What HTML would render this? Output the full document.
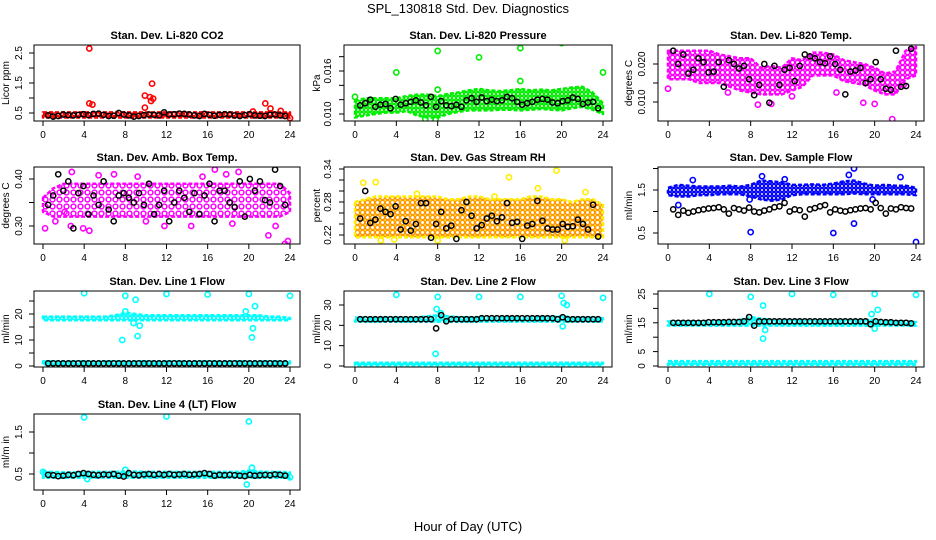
<!DOCTYPE html>
<html><head><meta charset="utf-8"><style>
body{margin:0;background:#fff;}
svg{display:block;font-family:"Liberation Sans",sans-serif;}
</style></head><body>
<svg id="c" width="936" height="540" viewBox="0 0 936 540">
<text x="468" y="13" text-anchor="middle" font-size="13">SPL_130818  Std. Dev. Diagnostics</text>
<text x="468" y="531" text-anchor="middle" font-size="13">Hour of Day (UTC)</text>
</svg>
<script>
const hours=[0,1,2,3,4,5,6,7,8,9,10,11,12,13,14,15,16,17,18,19,20,21,22,23,24];
const xTicks=[0,4,8,12,16,20,24];
const rep=(v,n)=>Array(n).fill(v);

const co2Lo=rep(0.35,25), co2Hi=rep(0.52,25);
const co2OutX=[4.5,4.5,4.8,9.9,10.6,10.4,10.7,10.5,9.9,21.6,22.1,23.1,20.4,24];
const co2OutY=[2.65,0.82,0.78,1.08,1.48,1.03,0.98,0.9,0.68,0.82,0.65,0.57,0.55,0.33];
const co2Black=[0.42,0.38,0.40,0.45,0.43,0.42,0.44,0.46,0.43,0.47,0.48,0.44,0.40,0.41,0.50,0.45,0.42,0.38,0.40,0.43,0.45,0.44,0.42,0.52,0.45,0.46,0.48,0.47,0.45,0.42,0.40,0.47,0.44,0.41,0.44,0.46,0.45,0.42,0.40,0.43,0.46,0.42,0.41,0.40,0.44,0.45,0.42,0.40];

const presLo=[0.0095,0.0098,0.0100,0.0102,0.0102,0.0104,0.0098,0.0095,0.0095,0.0100,0.0103,0.0105,0.0105,0.0105,0.0106,0.0106,0.0105,0.0106,0.0107,0.0106,0.0105,0.0108,0.0110,0.0106,0.0100];
const presHi=[0.0118,0.0122,0.0122,0.0122,0.0122,0.0125,0.0127,0.0127,0.0125,0.0128,0.0130,0.0133,0.0135,0.0133,0.0132,0.0133,0.0135,0.0133,0.0134,0.0133,0.0135,0.0137,0.0138,0.0130,0.0115];
const presOutX=[4,8,12,16,20,24,16,8,6.8,7.8,0];
const presOutY=[0.0158,0.0188,0.0179,0.0192,0.0199,0.0158,0.0146,0.0134,0.0093,0.0092,0.0124];
const presBlack=[0.0112,0.0115,0.0120,0.0110,0.0113,0.0114,0.0108,0.0121,0.0113,0.0115,0.0117,0.0119,0.0116,0.0112,0.0124,0.0110,0.0118,0.0112,0.0111,0.0113,0.0110,0.0119,0.0122,0.0117,0.0123,0.0118,0.0120,0.0118,0.0119,0.0124,0.0122,0.0117,0.0113,0.0115,0.0117,0.0120,0.0121,0.0120,0.0116,0.0115,0.0118,0.0119,0.0123,0.0121,0.0114,0.0116,0.0117,0.0108];

const tempLo=[0.016,0.016,0.016,0.015,0.015,0.015,0.014,0.013,0.0125,0.012,0.012,0.012,0.013,0.014,0.017,0.017,0.017,0.0155,0.015,0.0145,0.013,0.012,0.012,0.016,0.017];
const tempHi=[0.0235,0.0235,0.0235,0.0235,0.0235,0.0225,0.022,0.0215,0.0215,0.019,0.0195,0.019,0.0215,0.021,0.023,0.023,0.0225,0.021,0.0205,0.020,0.019,0.0175,0.018,0.0235,0.0245];
const tempOutX=[0,10,21.7,18.9,20,8.7,5.8,12,16.3,22.8];
const tempOutY=[0.0135,0.0095,0.0055,0.0098,0.0095,0.0093,0.0125,0.0115,0.0125,0.0145];
const tempBlack=[0.0235,0.0200,0.0225,0.0175,0.0185,0.0215,0.0205,0.0178,0.0180,0.0205,0.0140,0.0210,0.0200,0.0188,0.0195,0.0160,0.0118,0.0145,0.0200,0.0098,0.0195,0.0145,0.0185,0.0190,0.0155,0.0195,0.0225,0.0220,0.0215,0.0205,0.0202,0.0220,0.0200,0.0185,0.0120,0.0180,0.0183,0.0190,0.0150,0.0160,0.0205,0.0160,0.0135,0.0132,0.0235,0.0140,0.0142,0.0240];

const ambLo=[0.33,0.32,0.32,0.32,0.32,0.32,0.32,0.32,0.32,0.32,0.32,0.32,0.32,0.32,0.32,0.32,0.32,0.32,0.32,0.32,0.32,0.32,0.32,0.32,0.33];
const ambHi=[0.36,0.38,0.39,0.39,0.39,0.39,0.39,0.39,0.39,0.39,0.39,0.39,0.39,0.39,0.39,0.39,0.39,0.39,0.39,0.39,0.39,0.39,0.39,0.39,0.37];
const ambOutX=[0.2,2.1,2.7,3.9,4.5,2.8,5.4,6.9,16.7,17.8,19,21.9,23.5,23.8,10,11.8,14.4,18.4,22.6,1.2,9.2,15.5];
const ambOutY=[0.295,0.33,0.30,0.295,0.29,0.415,0.408,0.41,0.42,0.41,0.415,0.28,0.262,0.268,0.31,0.30,0.30,0.305,0.30,0.31,0.405,0.405];
const ambBlack=[0.345,0.365,0.410,0.375,0.395,0.295,0.370,0.385,0.325,0.365,0.345,0.395,0.335,0.310,0.365,0.370,0.360,0.350,0.370,0.345,0.390,0.325,0.345,0.375,0.310,0.350,0.375,0.360,0.330,0.370,0.325,0.365,0.390,0.310,0.375,0.375,0.350,0.340,0.395,0.320,0.400,0.375,0.395,0.355,0.350,0.420,0.385,0.345];

const rhLo=rep(0.216,25);
const rhHi=[0.28,0.285,0.29,0.29,0.29,0.29,0.29,0.29,0.29,0.285,0.285,0.29,0.29,0.285,0.285,0.285,0.285,0.29,0.29,0.285,0.285,0.28,0.285,0.285,0.275];
const rhOutX=[0.8,2,14.9,19.5,13.5,17.7,8,20.3,2.5,6,22.3,3.8];
const rhOutY=[0.315,0.316,0.325,0.337,0.29,0.305,0.21,0.21,0.21,0.295,0.298,0.212];
const rhBlack=[0.250,0.300,0.242,0.248,0.268,0.262,0.258,0.272,0.230,0.245,0.228,0.240,0.278,0.278,0.215,0.240,0.262,0.232,0.237,0.213,0.265,0.280,0.255,0.232,0.238,0.250,0.255,0.245,0.252,0.278,0.242,0.244,0.213,0.237,0.240,0.282,0.246,0.232,0.230,0.230,0.240,0.235,0.236,0.248,0.240,0.230,0.275,0.217];

const sampleLo=[1.38,1.35,1.35,1.38,1.38,1.40,1.40,1.40,1.35,1.28,1.25,1.28,1.38,1.40,1.40,1.40,1.40,1.40,1.42,1.40,1.40,1.40,1.40,1.40,1.38];
const sampleHi=[1.55,1.62,1.60,1.58,1.58,1.58,1.60,1.58,1.62,1.72,1.70,1.68,1.62,1.62,1.63,1.62,1.65,1.70,1.72,1.65,1.60,1.62,1.60,1.60,1.55];
const sampleOutX=[2.4,8,16,18,17.5,18,22.5,24,19.8,7.9,9.1,11.3,1.0];
const sampleOutY=[1.73,0.52,0.5,2.0,1.85,0.72,1.8,0.29,1.28,1.28,1.82,1.75,1.15];
const sampleBlack=[1.05,0.92,1.02,0.97,1.0,1.03,1.05,1.07,1.08,1.10,1.05,0.95,1.08,1.05,1.02,1.09,1.0,0.98,1.02,1.05,1.10,1.12,1.20,1.0,1.05,1.03,0.88,1.05,1.08,1.12,1.15,0.98,1.05,1.02,1.0,1.03,1.05,1.07,1.08,1.05,1.20,1.08,0.95,1.07,1.05,1.1,1.08,1.07];

const line1Lo=rep(17.6,25), line1Hi=[19,19,19,19,19,19,19,19.5,20.5,20,19.5,19.5,19.5,19.5,19.5,19.5,19.5,19.5,19.5,19.5,19.5,19.5,19,19,18.5];
const line1Lo2=rep(0.5,25), line1Hi2=rep(1.8,25);
const line1OutX=[4,8,9,12,16,20,24,7.7,9.2,20.3,20.6,20.4,9.4,8.8,8,19.7];
const line1OutY=[28,27,25.5,27.7,27.5,27.7,27,10,11.5,11,23,14.5,15.5,16.5,21,21];
const line1Black=[1.0,1.0,1.0,1.0,1.0,1.0,1.0,1.0,1.0,1.0,1.0,1.0,1.0,1.0,1.0,1.0,1.0,1.0,1.0,1.0,1.0,1.0,1.0,1.0,1.0,1.0,1.0,1.0,1.0,1.0,1.0,1.0,1.0,1.0,1.0,1.0,1.0,1.0,1.0,1.0,1.0,1.0,1.0,1.0,1.0,1.0,1.0,1.0];

const line2Lo=rep(21.8,25), line2Hi=[23.8,23.8,23.8,23.8,23.8,23.8,23.8,24.5,25,24.5,24,24,24,24,24,24,24,24,24,24,24.5,24,23.8,23.8,23.5];
const line2Lo2=rep(0.4,25), line2Hi2=rep(1.6,25);
const line2OutX=[4,8,12,16,20,24,7.9,20.2,20.5,7.8,20.1,8.3];
const line2OutY=[35,34,34,34,34.5,33.5,28,31,30,6,19.5,26];
const line2Black=[23,23,23,23,23,23,23,23,23,23,23,23,23,23,23,18.5,25,22,23,23,23,23,23,23,23.5,23.5,23.5,23.5,23.5,23.5,23.5,23.5,23.5,23.5,23.5,23.5,23.5,23.5,23.5,23,24,23,23,23,23,23,23,23];

const line3Lo=rep(14,25), line3Hi=[15.5,15.5,15.5,15.5,15.5,15.5,15.5,16,17,16.5,16,16,16,16,16,16,16,16,16,16,16,15.5,15.5,15.5,15.3];
const line3Lo2=rep(0.4,25), line3Hi2=rep(1.7,25);
const line3OutX=[4,8,9.2,9.4,9.2,12,16,20,20.3,20,19.7,24];
const line3OutY=[25,24,21,12.5,9.5,25,24.7,25,19.5,13,18,24.7];
const line3Black=[15,15,15,15,15,15,15,15.2,15.2,15.2,15.2,15.3,15.3,15.3,15.5,17,14,15.5,15.5,15.5,15.5,15.5,15.5,15.5,15.5,15.5,15.5,15.5,15.5,15.5,15.5,15.5,15.5,15.5,15.5,15.5,15.5,15.5,15.5,14.5,15.5,15.3,15.2,15.2,15,15,15,14.8];

const line4Lo=rep(0.41,25), line4Hi=[0.56,0.55,0.54,0.54,0.55,0.55,0.55,0.55,0.56,0.56,0.55,0.55,0.55,0.55,0.55,0.55,0.55,0.55,0.55,0.55,0.58,0.56,0.55,0.55,0.54];
const line4OutX=[4,12,20,19.8,20.3,8,0,24,4.3];
const line4OutY=[1.85,1.87,1.75,0.25,0.65,0.6,0.55,0.42,0.38];
const line4Black=[0.48,0.47,0.45,0.46,0.48,0.47,0.50,0.52,0.50,0.48,0.47,0.49,0.48,0.50,0.46,0.44,0.52,0.48,0.47,0.49,0.50,0.48,0.50,0.48,0.50,0.48,0.49,0.50,0.48,0.49,0.50,0.52,0.50,0.46,0.48,0.47,0.48,0.47,0.46,0.45,0.48,0.46,0.47,0.48,0.47,0.49,0.48,0.46];

const cols=[{l:34,r:300,x0:43,x24:290,yt:9,tl:22},{l:344,r:612,x0:355,x24:603,yt:320,tl:331},{l:658,r:924,x0:668,x24:916,yt:632,tl:645}];
const rows=[{t:45,b:121},{t:167,b:244},{t:291,b:367},{t:414,b:490}];
const panels=[
 {name:'co2',title:'Stan. Dev. Li-820 CO2',ylab:'Licor ppm',c:0,r:0,col:'#ff0000',tile:4,v:[0.5,2.5],p:[113,53],ticks:[0.5,1,1.5,2,2.5],labs:['0.5','','1.5','','2.5'],lo:co2Lo,hi:co2Hi,ox:co2OutX,oy:co2OutY,bk:co2Black},
 {name:'pressure',title:'Stan. Dev. Li-820 Pressure',ylab:'kPa',c:1,r:0,col:'#00ee00',tile:4,v:[0.010,0.016],p:[114,71],ticks:[0.010,0.012,0.014,0.016,0.018],labs:['0.010','','','0.016',''],lo:presLo,hi:presHi,ox:presOutX,oy:presOutY,bk:presBlack},
 {name:'temp',title:'Stan. Dev. Li-820 Temp.',ylab:'degrees C',c:2,r:0,col:'#ff00ff',tile:5,v:[0.010,0.020],p:[102,64],ticks:[0.010,0.015,0.020],labs:['0.010','','0.020'],lo:tempLo,hi:tempHi,ox:tempOutX,oy:tempOutY,bk:tempBlack},
 {name:'ambbox',title:'Stan. Dev. Amb. Box Temp.',ylab:'degrees C',c:0,r:1,col:'#ff00ff',tile:7,v:[0.30,0.40],p:[226,179],ticks:[0.30,0.35,0.40],labs:['0.30','','0.40'],lo:ambLo,hi:ambHi,ox:ambOutX,oy:ambOutY,bk:ambBlack},
 {name:'rh',title:'Stan. Dev. Gas Stream RH',ylab:'percent',c:1,r:1,col:'#ff9900',col2:'#ffee00',tile:5,v:[0.22,0.34],p:[235,169],ticks:[0.22,0.24,0.26,0.28,0.30,0.32,0.34],labs:['0.22','','','0.28','','','0.34'],lo:rhLo,hi:rhHi,ox:rhOutX,oy:rhOutY,bk:rhBlack},
 {name:'sample-flow',title:'Stan. Dev. Sample Flow',ylab:'ml/min',c:2,r:1,col:'#0000ff',tile:4,v:[0.5,1.5],p:[233,190],ticks:[0.5,1,1.5,2],labs:['0.5','','1.5',''],lo:sampleLo,hi:sampleHi,ox:sampleOutX,oy:sampleOutY,bk:sampleBlack},
 {name:'line1',title:'Stan. Dev. Line 1 Flow',ylab:'ml/min',c:0,r:2,col:'#00ffff',tile:4,v:[0,20],p:[366,314],ticks:[0,5,10,15,20,25],labs:['0','','10','','20',''],lo:line1Lo,hi:line1Hi,lo2:line1Lo2,hi2:line1Hi2,ox:line1OutX,oy:line1OutY,bk:line1Black},
 {name:'line2',title:'Stan. Dev. Line 2 Flow',ylab:'ml/min',c:1,r:2,col:'#00ffff',tile:4,v:[0,30],p:[366,305],ticks:[0,10,20,30],labs:['0','10','20','30'],lo:line2Lo,hi:line2Hi,lo2:line2Lo2,hi2:line2Hi2,ox:line2OutX,oy:line2OutY,bk:line2Black},
 {name:'line3',title:'Stan. Dev. Line 3 Flow',ylab:'ml/min',c:2,r:2,col:'#00ffff',tile:4,v:[0,25],p:[366,294],ticks:[0,5,10,15,20,25],labs:['0','5','','15','','25'],lo:line3Lo,hi:line3Hi,lo2:line3Lo2,hi2:line3Hi2,ox:line3OutX,oy:line3OutY,bk:line3Black},
 {name:'line4',title:'Stan. Dev. Line 4 (LT) Flow',ylab:'ml/m in',c:0,r:3,col:'#00ffff',tile:4,v:[0.5,1.5],p:[474,432],ticks:[0.5,1,1.5],labs:['0.5','','1.5'],lo:line4Lo,hi:line4Hi,ox:line4OutX,oy:line4OutY,bk:line4Black}
];
const svg=document.getElementById('c');
const NS='http://www.w3.org/2000/svg';
function mk(tag,at,parent){const e=document.createElementNS(NS,tag);for(const k in at)e.setAttribute(k,at[k]);(parent||svg).appendChild(e);return e;}
const defs=mk('defs',{});
panels.forEach(P=>{
 const C=cols[P.c],R=rows[P.r];
 const g=mk('g',{});
 
 
 const xs=h=>C.x0+(C.x24-C.x0)*h/24;
 const ys=v=>P.p[0]+(P.p[1]-P.p[0])*(v-P.v[0])/(P.v[1]-P.v[0]);
 const s=P.tile;
 const pat=mk('pattern',{id:'pat-'+P.name,width:s,height:s,patternUnits:'userSpaceOnUse'},defs);
 mk('rect',{x:0,y:0,width:s,height:s,fill:'#fff'},pat);
 mk('circle',{cx:s/2,cy:s/2,r:Math.min(2.4,s/2-0.3),fill:'none',stroke:P.col,'stroke-width':1.5},pat);
 if(P.col2)mk('circle',{cx:0,cy:0,r:1.2,fill:P.col2},pat);
 const clip='clip-'+P.name;
 const cp=mk('clipPath',{id:clip},g);mk('rect',{x:C.l,y:R.t,width:C.r-C.l,height:R.b-R.t},cp);
 const d=mk('g',{'clip-path':'url(#'+clip+')'},g);
 const band=(lo,hi,nm)=>{
  let pts=hours.map((h,i)=>xs(h)+','+ys(hi[i]));
  pts=pts.concat(hours.slice().reverse().map((h,j)=>xs(h)+','+ys(lo[hours.length-1-j])));
  const e=mk('polygon',{points:pts.join(' '),fill:'url(#pat-'+P.name+')',stroke:P.col2||P.col,'stroke-width':2.5,'stroke-dasharray':'4 2','stroke-linejoin':'round'},d);
  
  
 };
 band(P.lo,P.hi,P.name+'-band');
 if(P.lo2)band(P.lo2,P.hi2,P.name+'-low-band');
 P.ox.forEach((x,i)=>{
  const e=mk('circle',{cx:xs(x),cy:ys(P.oy[i]),r:2.6,fill:'none',stroke:P.col2||P.col,'stroke-width':1.6},d);
  
  
 });
 P.bk.forEach((v,i)=>{
  const e=mk('circle',{cx:xs(0.5+i*0.49),cy:ys(v),r:2.6,fill:'none',stroke:'#000','stroke-width':1.5},d);
  
  
 });
 const box=mk('rect',{x:C.l,y:R.t,width:C.r-C.l,height:R.b-R.t,fill:'none',stroke:'#000','stroke-width':1},g);
 
 
 const t=mk('text',{x:(C.l+C.r)/2,y:R.t-6,'text-anchor':'middle','font-size':11,'font-weight':'bold'},g);t.textContent=P.title;
 
 
 xTicks.forEach(h=>{
  mk('line',{x1:xs(h),x2:xs(h),y1:R.b,y2:R.b+5,stroke:'#000'},g);
  const e=mk('text',{x:xs(h),y:R.b+17,'text-anchor':'middle','font-size':10},g);e.textContent=h;
  
  
 });
 P.ticks.forEach((v,i)=>{
  const y=ys(v);if(y<R.t-1||y>R.b+1)return;
  mk('line',{x1:C.l-5,x2:C.l,y1:y,y2:y,stroke:'#000'},g);
  if(P.labs[i]){const e=mk('text',{x:C.tl,y:y,'text-anchor':'middle','font-size':10,transform:'rotate(-90 '+C.tl+' '+y+')'},g);e.textContent=P.labs[i];
  
  }
 });
 const ym=(R.t+R.b)/2;
 const yl=mk('text',{x:C.yt,y:ym,'text-anchor':'middle','font-size':10,transform:'rotate(-90 '+C.yt+' '+ym+')'},g);yl.textContent=P.ylab;
 
 
});
</script>
</body></html>
